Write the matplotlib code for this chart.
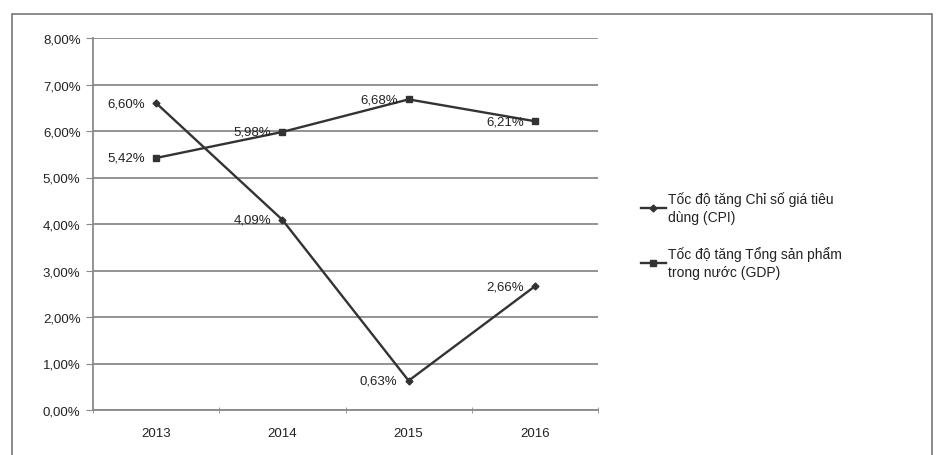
import matplotlib
matplotlib.use("Agg")
import matplotlib.pyplot as plt
from matplotlib.patches import Rectangle

years = ["2013", "2014", "2015", "2016"]
cpi = [6.60, 4.09, 0.63, 2.66]
gdp = [5.42, 5.98, 6.68, 6.21]
cpi_label = "Tốc độ tăng Chỉ số giá tiêu\ndùng (CPI)"
gdp_label = "Tốc độ tăng Tổng sản phẩm\ntrong nước (GDP)"
yticks = [0, 1, 2, 3, 4, 5, 6, 7, 8]


def pct(v):
    return ("%.2f%%" % v).replace(".", ",")


def main():
    W, H = 939, 456
    fig = plt.figure(figsize=(W / 100, H / 100), dpi=100)
    plt.rcParams['font.family'] = ['Liberation Sans', 'DejaVu Sans']
    line_col = "#333333"
    grid_col = "#8a8a8a"
    text_col = "#222222"

    # outer chart border
    fig.patches.append(Rectangle((12 / W, -0.05), 920 / W, 1.05 - 15 / H,
                                 transform=fig.transFigure, fill=False,
                                 edgecolor="#777777", linewidth=1.2))

    ax = fig.add_axes([93 / W, 1 - 411 / H, (598 - 93) / W, (411 - 39) / H])
    x = list(range(len(years)))
    ax.plot(x, cpi, color=line_col, linewidth=1.7, marker="D", markersize=3.5,
            label=cpi_label)
    ax.plot(x, gdp, color=line_col, linewidth=1.7, marker="s", markersize=5,
            label=gdp_label)

    for xi, v in zip(x, cpi):
        ax.annotate(pct(v), (xi, v), xytext=(-8, 0), textcoords="offset points",
                    ha="right", va="center", fontsize=9.5, color=text_col)
    for xi, v in zip(x, gdp):
        ax.annotate(pct(v), (xi, v), xytext=(-8, 0), textcoords="offset points",
                    ha="right", va="center", fontsize=9.5, color=text_col)

    ax.set_xlim(-0.5, len(years) - 0.5)
    ax.set_ylim(0, 8)
    ax.set_yticks(yticks)
    ax.set_yticklabels([pct(v) for v in yticks])
    ax.set_xticks(x)
    ax.set_xticklabels(years)
    ax.set_xticks([i - 0.5 for i in range(len(years) + 1)], minor=True)
    ax.tick_params(axis="x", which="major", length=0, pad=12, labelsize=9.5,
                   colors=text_col)
    ax.tick_params(axis="x", which="minor", length=5, color=grid_col,
                   direction="inout")
    ax.tick_params(axis="y", length=5, color=grid_col, labelsize=9.5,
                   colors=text_col, pad=4)
    ax.yaxis.grid(True, color=grid_col, linewidth=1.3)
    ax.set_axisbelow(True)
    for s in ["top", "right"]:
        ax.spines[s].set_visible(False)
    for s in ["left", "bottom"]:
        ax.spines[s].set_color(grid_col)
        ax.spines[s].set_linewidth(1.3)

    handles, labels = ax.get_legend_handles_labels()
    leg = fig.legend(handles, labels, loc="upper left",
                     bbox_to_anchor=(628 / W, 1 - 180 / H), frameon=False,
                     fontsize=10, handlelength=1.8, handletextpad=0.2,
                     labelspacing=1.6, labelcolor=text_col)
    for t in leg.get_texts():
        t.set_linespacing(1.35)

    fig.savefig("out.png", dpi=100)


if __name__ == "__main__":
    main()
